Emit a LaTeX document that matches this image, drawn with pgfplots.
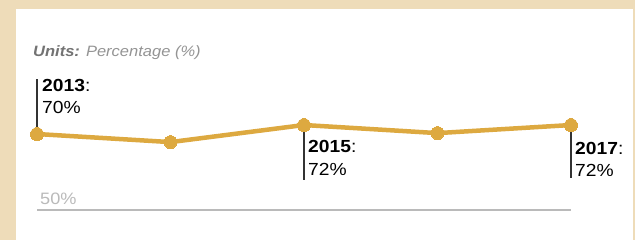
\documentclass[border=0pt]{standalone}
\usepackage{fontspec}
\setmainfont{Liberation Sans}
\newfontfamily\wide[FakeStretch=1.1]{Liberation Sans}
\usepackage{pgfplots}
\pgfplotsset{compat=1.18}
\definecolor{bg}{HTML}{EEDCB9}
\definecolor{gold}{HTML}{DDA940}
\definecolor{annline}{HTML}{333333}
\begin{document}
\begin{tikzpicture}[x=1pt,y=-1pt]
\fill[bg] (0,0) rectangle (635,240);
\fill[white] (16,9) rectangle (633,240);
\node[anchor=base west, inner sep=0pt, font=\wide\fontsize{15}{17}\selectfont\itshape] at (33,57)
  {\textcolor{black!55}{\bfseries Units:} \textcolor{black!42}{Percentage (\%)}};
\begin{axis}[
  at={(37pt,-210pt)}, anchor=south west,
  scale only axis, width=534pt, height=110pt,
  xmin=2013, xmax=2017, ymin=53.11, ymax=77.56,
  axis x line*=bottom, axis y line=none,
  axis line style={draw=black!27, line width=2pt, -},
  xtick=\empty, ytick=\empty,
  clip=false,
]
\draw[annline, line width=1.8pt] (axis cs:2013,70) -- ++(0pt,55pt);
\draw[annline, line width=1.8pt] (axis cs:2015,72) -- ++(0pt,-55pt);
\draw[annline, line width=1.8pt] (axis cs:2017,72) -- ++(0pt,-53pt);
\addplot[gold, line width=4.5pt, mark=*, mark size=6.5pt, mark options={fill=gold, draw=gold, line width=0pt}]
  coordinates {(2013,70) (2014,68.2) (2015,72) (2016,70.2) (2017,72)};
\begin{scope}[font=\wide\fontsize{17.5}{19}\selectfont, inner sep=0pt]
\node[anchor=base west] at ([xshift=5pt,yshift=43pt]axis cs:2013,70) {\textbf{2013}:};
\node[anchor=base west] at ([xshift=5pt,yshift=21pt]axis cs:2013,70) {70\%};
\node[anchor=base west] at ([xshift=4pt,yshift=-27pt]axis cs:2015,72) {\textbf{2015}:};
\node[anchor=base west] at ([xshift=4pt,yshift=-50pt]axis cs:2015,72) {72\%};
\node[anchor=base west] at ([xshift=4pt,yshift=-29pt]axis cs:2017,72) {\textbf{2017}:};
\node[anchor=base west] at ([xshift=4pt,yshift=-51pt]axis cs:2017,72) {72\%};
\node[anchor=base west, text=black!27, font=\wide\fontsize{16.5}{18}\selectfont] at ([xshift=3pt,yshift=5pt]rel axis cs:0,0) {50\%};
\end{scope}
\end{axis}
\end{tikzpicture}
\end{document}
